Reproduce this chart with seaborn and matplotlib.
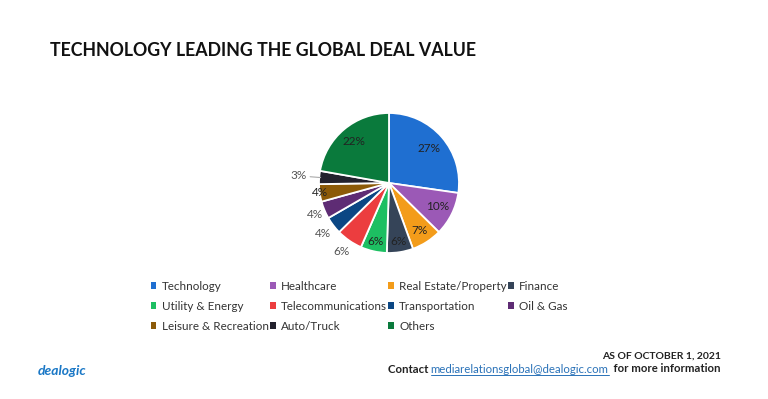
import matplotlib
matplotlib.use("Agg")
import matplotlib.pyplot as plt
import seaborn as sns
import numpy as np
from matplotlib.lines import Line2D
from matplotlib.patches import Patch

sectors = ["Technology", "Healthcare", "Real Estate/Property", "Finance",
           "Utility & Energy", "Telecommunications", "Transportation", "Oil & Gas",
           "Leisure & Recreation", "Auto/Truck", "Others"]
shares = [27, 10, 7, 6, 6, 6, 4, 4, 4, 3, 22]
colors = ["#1f6fd1", "#9b59b6", "#f39c1a", "#354458", "#1dbf62", "#ec3d3f",
          "#0b4784", "#5e2c74", "#8c5a08", "#22212d", "#0a7a3c"]
# label radius per wedge (fraction of pie radius)
label_r = [0.75, 0.77, 0.81, 0.84, 0.85, 1.19, 1.19, 1.15, 0.99, 1.29, 0.77]

sns.set_theme(style="white")
plt.rcParams["font.family"] = ["Lato", "DejaVu Sans"]

fig = plt.figure(figsize=(7.68, 3.99), dpi=100)
fig.patch.set_facecolor("white")

W, H = 768, 399
cx, cy, rad = 389, 183, 70
ax = fig.add_axes([(cx - rad) / W, (H - cy - rad) / H, 2 * rad / W, 2 * rad / H])
wedges, _ = ax.pie(shares, colors=colors, startangle=90, counterclock=False,
                   wedgeprops=dict(edgecolor="white", linewidth=1.3))
ax.set_xlim(-1, 1)
ax.set_ylim(-1, 1)
ax.set_aspect("equal")
ax.axis("off")

for w, s, r in zip(wedges, shares, label_r):
    ang = np.deg2rad((w.theta1 + w.theta2) / 2)
    x, y = r * np.cos(ang), r * np.sin(ang)
    col = "#222222" if r < 1 else "#555555"
    ax.text(x, y, f"{s}%", ha="center", va="center", fontsize=8.5, color=col)
# leader line for the smallest outside label
w = wedges[9]
ang = np.deg2rad((w.theta1 + w.theta2) / 2)
ax.plot([1.13 * np.cos(ang), 0.98 * np.cos(ang)], [1.13 * np.sin(ang), 0.98 * np.sin(ang)],
        color="#aaaaaa", lw=0.8, clip_on=False)

fig.text(50 / W, 1 - 51 / H, "TECHNOLOGY LEADING THE GLOBAL DEAL VALUE",
         fontsize=12.8, fontweight="bold", color="#111111", va="center", ha="left")

# legend, filled column-wise so rows read in order
order = [0, 4, 8, 1, 5, 9, 2, 6, 10, 3, 7]
handles = [Patch(facecolor=colors[i], edgecolor="none") for i in order]
labels = [sectors[i] for i in order]
fig.legend(handles, labels, ncol=4, loc="upper left",
           bbox_to_anchor=(140 / W, 1 - 270 / H), frameon=False, fontsize=8.4,
           handlelength=0.5, handleheight=0.5, handletextpad=0.45,
           columnspacing=0.1, labelspacing=0.78, labelcolor="#333333")

# footer
fig.text(38 / W, 1 - 371 / H, "dealogic", fontsize=10, fontstyle="italic",
         fontweight="bold", color="#1b78c6", va="center", ha="left")
fig.text(721 / W, 1 - 356 / H, "AS OF OCTOBER 1, 2021", fontsize=7.5, fontweight="bold",
         color="#222222", ha="right", va="center")
fs = 8.2
t3 = fig.text(721 / W, 1 - 369 / H, "  for more information", fontsize=fs,
              fontweight="bold", color="#222222", ha="right", va="center")
t2 = fig.text(0, 0, "mediarelationsglobal@dealogic.com", fontsize=fs, color="#2a72b8",
              ha="right", va="baseline")
t1 = fig.text(0, 0, "Contact ", fontsize=fs, fontweight="bold", color="#222222",
              ha="right", va="baseline")

fig.canvas.draw()
r = fig.canvas.get_renderer()
b3 = t3.get_window_extent(r)
base_y = 1 - 369 / H - 0.009
t2.set_position((b3.x0 / W, base_y))
fig.canvas.draw()
b2 = t2.get_window_extent(r)
t1.set_position((b2.x0 / W, base_y))
fig.add_artist(Line2D([b2.x0 / W, b2.x1 / W], [base_y - 0.006, base_y - 0.006],
                      color="#2a72b8", lw=0.7))

fig.savefig("out.png", dpi=100, facecolor="white")
